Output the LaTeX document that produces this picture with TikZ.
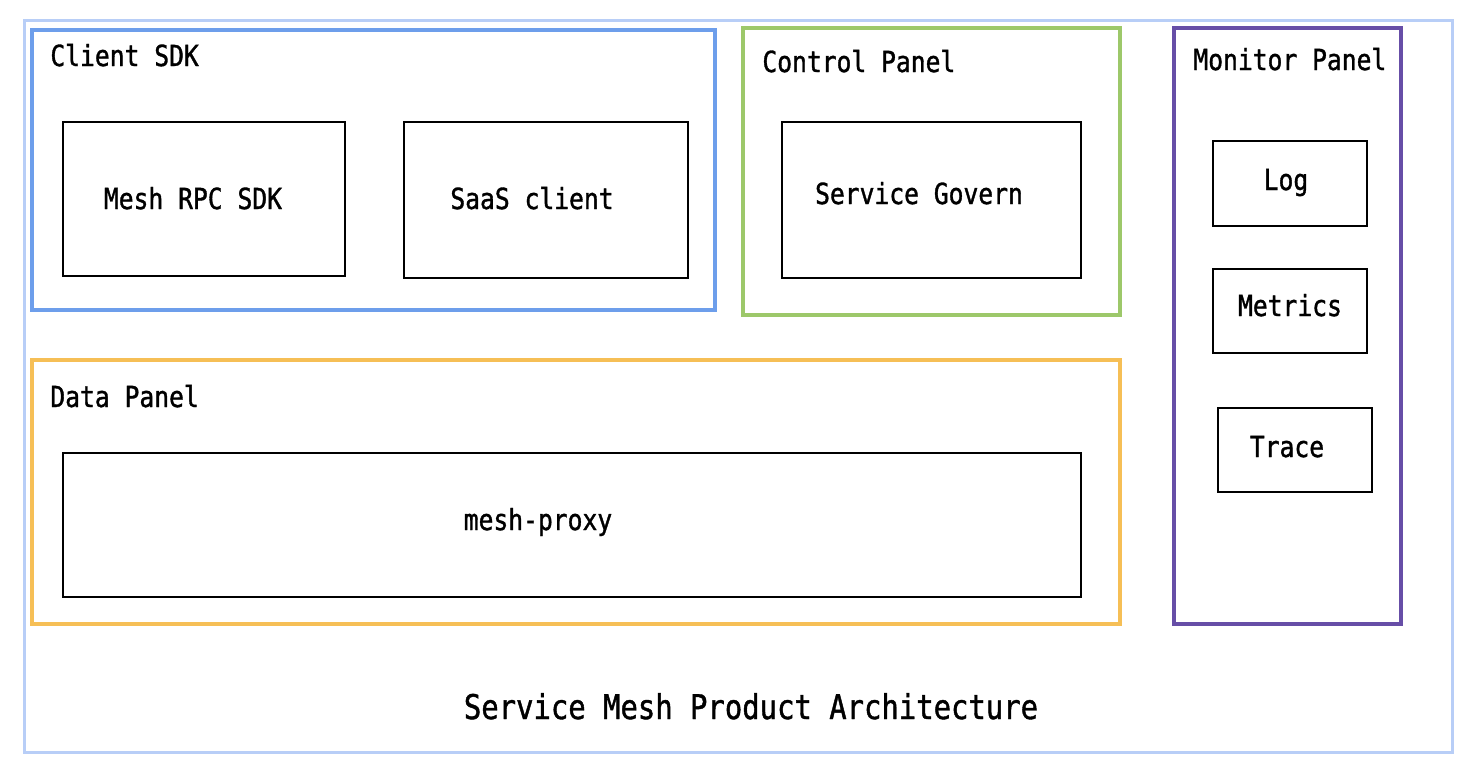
\documentclass[tikz,border=0pt]{standalone}
\usepackage{fontspec}
\setmainfont{DejaVu Sans Mono}[FakeStretch=0.85,FakeBold=1.2]
\definecolor{outerblue}{HTML}{B8CEF7}
\definecolor{sdkblue}{HTML}{6D9EEB}
\definecolor{ctrlgreen}{HTML}{9DC86A}
\definecolor{dataorange}{HTML}{F6BF56}
\definecolor{monpurple}{HTML}{674EA7}
\tikzset{>=stealth}

\begin{document}
\begin{tikzpicture}[x=0.5pt,y=-0.5pt,
  panel/.style={line width=2pt},
  part/.style={draw=black,line width=1pt},
  ptitle/.style={anchor=base west,inner sep=0pt,font=\fontsize{14.5}{17}\selectfont},
  plabel/.style={anchor=base,inner sep=0pt,font=\fontsize{14.5}{17}\selectfont}]
\useasboundingbox[fill=white] (0,0) rectangle (1468,768);
% outer frame
\draw[outerblue,line width=1.5pt] (24,20) rectangle (1452,752);
% client sdk
\draw[panel,sdkblue] (32,30) rectangle (715,310);
\node[ptitle] (sdk) at (50,66) {Client SDK};
\draw[part] (63,122) rectangle (345,276);
\node[plabel] (rpc) at (193,209) {Mesh RPC SDK};
\draw[part] (404,122) rectangle (688,278);
\node[plabel] (saas) at (532,209) {SaaS client};
% control panel
\draw[panel,ctrlgreen] (743,28) rectangle (1120,315);
\node[ptitle] (ctrl) at (762,72) {Control Panel};
\draw[part] (782,122) rectangle (1081,278);
\node[plabel] (govern) at (919,204) {Service Govern};
% monitor panel
\draw[panel,monpurple] (1174,28) rectangle (1401,624);
\node[ptitle] (mon) at (1193,70) {Monitor Panel};
\draw[part] (1213,141) rectangle (1367,226);
\node[plabel] (log) at (1286,190) {Log};
\draw[part] (1213,269) rectangle (1367,353);
\node[plabel] (metrics) at (1290,316) {Metrics};
\draw[part] (1218,408) rectangle (1372,492);
\node[plabel] (trace) at (1287,457) {Trace};
% data panel
\draw[panel,dataorange] (32,360) rectangle (1120,624);
\node[ptitle] (data) at (50,407) {Data Panel};
\draw[part] (63,453) rectangle (1081,597);
\node[plabel] (proxy) at (538,530) {mesh-proxy};
% caption
\node[plabel,font=\fontsize{17}{20}\selectfont] (title) at (751,719) {Service Mesh Product Architecture};
\end{tikzpicture}
\end{document}
